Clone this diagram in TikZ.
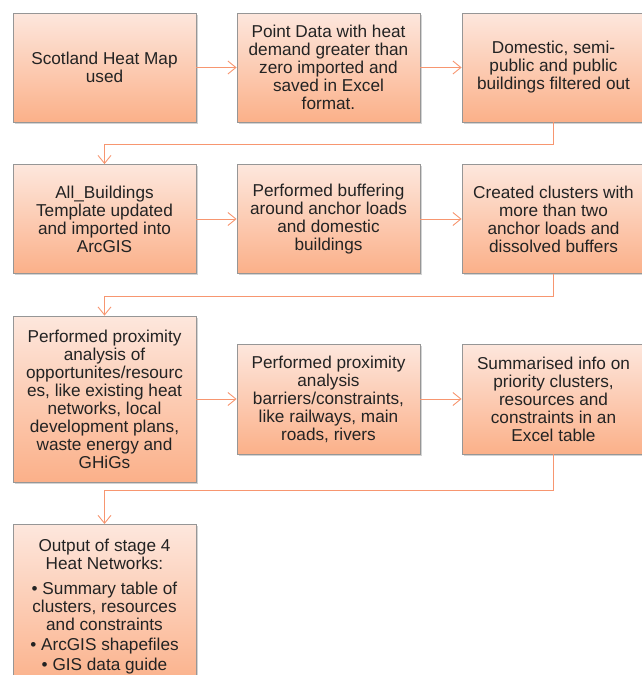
\documentclass[tikz,border=0pt]{standalone}
\usepackage{fontspec}
\setmainfont{Liberation Sans}
\usetikzlibrary{arrows.meta,shadows}
\definecolor{boxtop}{RGB}{253,231,221}
\definecolor{boxbottom}{RGB}{251,176,137}
\definecolor{boxedge}{RGB}{150,150,150}
\definecolor{flowline}{RGB}{247,150,112}
\definecolor{boxtext}{RGB}{35,35,35}
\tikzset{
  stagebox/.style={draw=boxedge, line width=0.8pt, top color=boxtop, bottom color=boxbottom,
    drop shadow={shadow xshift=1.5pt, shadow yshift=-1.5pt, opacity=0.35},
    minimum width=183pt, minimum height=109pt, inner sep=2pt, align=center,
    text=boxtext, font=\fontsize{17.2}{18}\selectfont},
  flowarrow/.style={draw=flowline, line width=0.9pt, -{Straight Barb[length=8pt,width=13pt]}}
}
\begin{document}
\begin{tikzpicture}[x=1pt,y=-1pt]
\useasboundingbox (0,0) rectangle (642,675);
% first row
\node[stagebox] (heatmap) at (104.5,67.5) {Scotland Heat Map\\used};
\node[stagebox] (pointdata) at (328.5,67.5) {Point Data with heat\\demand greater than\\zero imported and\\saved in Excel\\format.};
\node[stagebox] (filter) at (553.5,67.5) {Domestic, semi-\\public and public\\buildings filtered out};
% second row
\node[stagebox] (template) at (104.5,219) {All\_Buildings\\Template updated\\and imported into\\ArcGIS};
\node[stagebox] (buffer) at (328.5,219) {Performed buffering\\around anchor loads\\and domestic\\buildings};
\node[stagebox] (clusters) at (553.5,219) {Created clusters with\\more than two\\anchor loads and\\dissolved buffers};
% third row
\node[stagebox, minimum height=166pt] (resources) at (104.5,399) {Performed proximity\\analysis of\\opportunites/resourc\\es, like existing heat\\networks, local\\development plans,\\waste energy and\\GHiGs};
\node[stagebox, minimum height=110pt] (barriers) at (328.5,399) {Performed proximity\\analysis\\barriers/constraints,\\like railways, main\\roads, rivers};
\node[stagebox, minimum height=110pt] (summary) at (553.5,399) {Summarised info on\\priority clusters,\\resources and\\constraints in an\\Excel table};
% output
\node[stagebox, minimum height=164pt, anchor=north] (output) at (104.5,524) {Output of stage 4\\Heat Networks:\\[7pt]
  • Summary table of\\clusters, resources\\and constraints\\[2pt]
  • ArcGIS shapefiles\\[2pt]
  • GIS data guide};
% connectors
\draw[flowarrow] (heatmap) -- (pointdata);
\draw[flowarrow] (pointdata) -- (filter);
\draw[flowarrow] (filter.south) -- ++(0,22) -| (template.north);
\draw[flowarrow] (template) -- (buffer);
\draw[flowarrow] (buffer) -- (clusters);
\draw[flowarrow] (clusters.south) -- ++(0,23) -| (resources.north);
\draw[flowarrow] (resources.east |- barriers.west) -- (barriers.west);
\draw[flowarrow] (barriers) -- (summary);
\draw[flowarrow] (summary.south) -- ++(0,36) -| (output.north);
\end{tikzpicture}
\end{document}
